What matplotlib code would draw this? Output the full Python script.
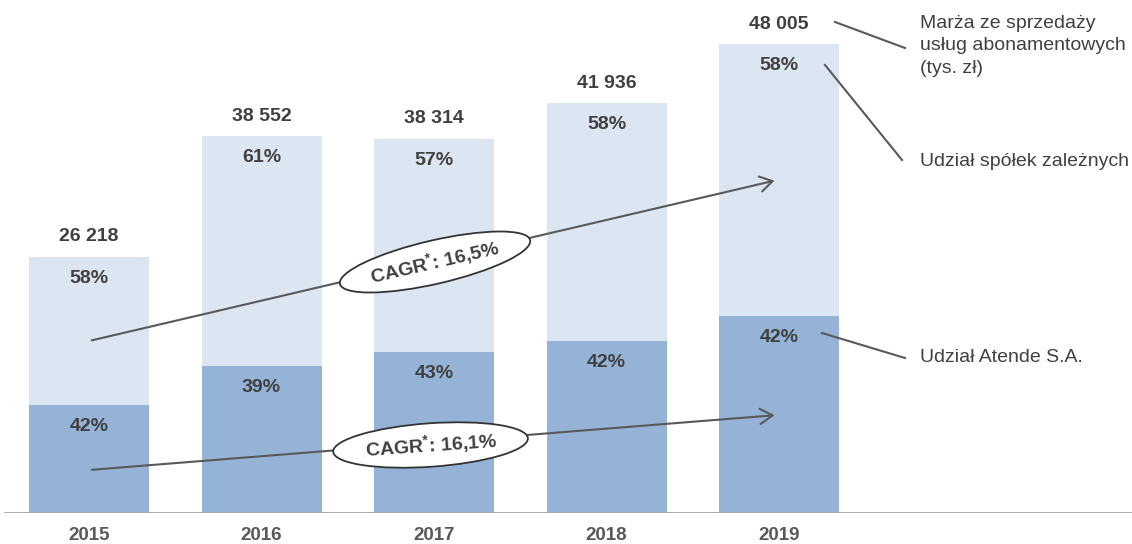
import matplotlib.pyplot as plt
from matplotlib.patches import FancyArrowPatch

plt.rcParams['font.family'] = ['Liberation Sans', 'DejaVu Sans']
plt.rcParams['mathtext.fontset'] = 'custom'
plt.rcParams['mathtext.rm'] = 'Liberation Sans:bold'
plt.rcParams['mathtext.it'] = 'Liberation Sans:bold'

years = ['2015', '2016', '2017', '2018', '2019']
totals = [26218, 38552, 38314, 41936, 48005]
total_labels = ['26 218', '38 552', '38 314', '41 936', '48 005']
share_atende = [42, 39, 43, 42, 42]
share_subs = [58, 61, 57, 58, 58]
cagr_subs = '16,5%'
cagr_atende = '16,1%'

light = '#dce6f2'
dark = '#95b3d7'
txt = '#404040'
line_c = '#595959'

W, H = 1132, 544
fig = plt.figure(figsize=(W / 100, H / 100), dpi=100)
ax = fig.add_axes([0, 31 / H, 1, 513 / H])
upp = 102.36  # data units per pixel
ax.set_xlim(-89 / 172.5, (W - 89) / 172.5)
ax.set_ylim(0, 513 * upp)
ax.axis('off')

x = list(range(len(years)))
bottom = [t * s / 100 for t, s in zip(totals, share_atende)]
top = [t - b for t, b in zip(totals, bottom)]
bw = 120 / 172.5
ax.bar(x, bottom, width=bw, color=dark, zorder=2)
ax.bar(x, top, width=bw, bottom=bottom, color=light, zorder=2)

for i in x:
    ax.text(i, totals[i] + 20 * upp, total_labels[i], ha='center', va='center',
            fontsize=14, fontweight='bold', color=txt)
    ax.text(i, totals[i] - 21.5 * upp, f'{share_subs[i]}%', ha='center', va='center',
            fontsize=14, fontweight='bold', color=txt, zorder=3)
    ax.text(i, bottom[i] - 21.5 * upp, f'{share_atende[i]}%', ha='center', va='center',
            fontsize=14, fontweight='bold', color=txt, zorder=3)
    ax.text(i, -22 * upp, years[i], ha='center', va='center', fontsize=13.5,
            fontweight='bold', color='#595959', clip_on=False)

# baseline
ax.axhline(0, xmin=5 / W, xmax=1, color='#a6a6a6', lw=2, zorder=3)

# CAGR arrows
for (x0, y0, x1, y1), lab, rot, (cx, cy) in [
        ((0, 17605, 3.99, 34085), cagr_subs, 13, (2.006, 25691)),
        ((0, 4401, 3.99, 10031), cagr_atende, 4, (1.98, 6960))]:
    arr = FancyArrowPatch((x0, y0), (x1, y1), arrowstyle='->,head_length=9,head_width=5.5',
                          color=line_c, lw=1.5, zorder=4, mutation_scale=1)
    ax.add_patch(arr)
    ax.text(cx, cy, 'CAGR$^{*}$: ' + lab, ha='center', va='center', rotation=rot,
            rotation_mode='anchor', fontsize=14, fontweight='bold', color=txt, zorder=5,
            bbox=dict(boxstyle='ellipse,pad=0.15', fc='white', ec='#333333', lw=1.3))


def px(xp, yp):
    return (xp / W, 1 - yp / H)


for (a, b) in [((835, 22), (905, 48)), ((825, 65), (902, 160)), ((822, 333), (905, 358))]:
    fig.add_artist(plt.Line2D([px(*a)[0], px(*b)[0]], [px(*a)[1], px(*b)[1]],
                              color=line_c, lw=1.5))

fig.text(*px(920, 46), 'Marża ze sprzedaży\nusług abonamentowych\n(tys. zł)', ha='left',
         va='center', fontsize=14, color=txt, linespacing=1.45)
fig.text(*px(920, 162), 'Udział spółek zależnych', ha='left', va='center', fontsize=14, color=txt)
fig.text(*px(920, 358), 'Udział Atende S.A.', ha='left', va='center', fontsize=14, color=txt)

fig.savefig('out.png', dpi=100)
